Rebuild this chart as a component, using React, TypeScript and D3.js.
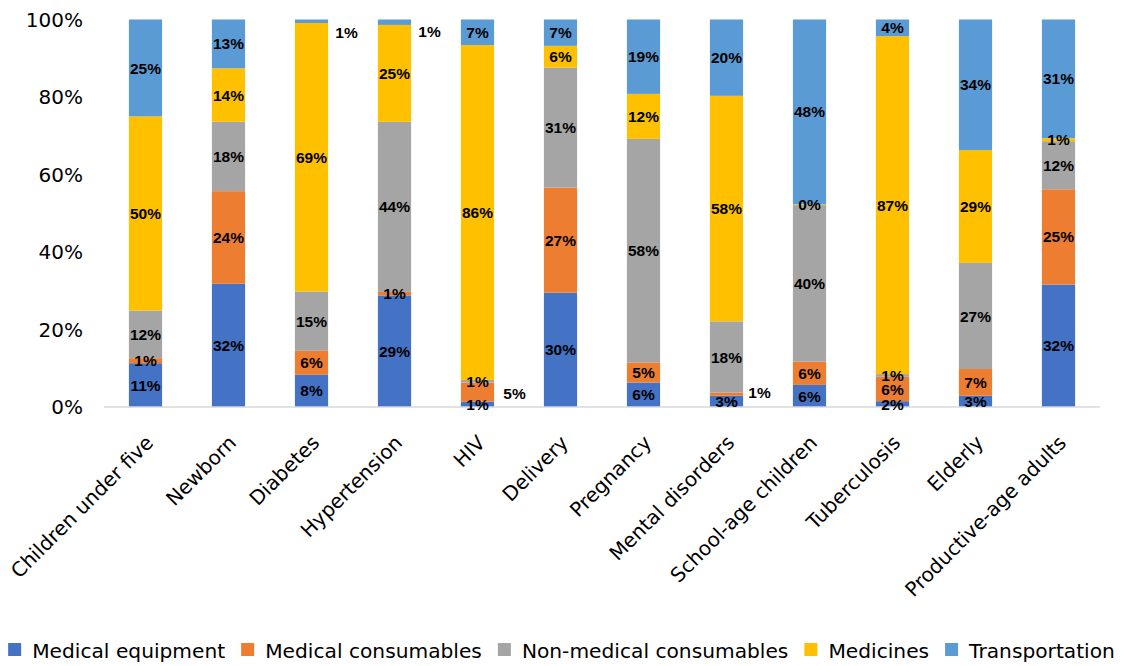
import React, { useEffect, useRef } from "react";
import * as d3 from "d3";

const categories = [
  "Children under five", "Newborn", "Diabetes", "Hypertension", "HIV", "Delivery",
  "Pregnancy", "Mental disorders", "School-age children", "Tuberculosis", "Elderly",
  "Productive-age adults",
];
const seriesNames = ["Medical equipment", "Medical consumables", "Non-medical consumables", "Medicines", "Transportation"];
const medicalEquipment = [11.3, 31.8, 8.3, 28.8, 1.4, 29.5, 6.3, 2.9, 5.7, 1.5, 2.9, 31.6];
const medicalConsumables = [1.3, 23.9, 6.2, 0.9, 4.9, 27.1, 5.2, 0.8, 6.0, 6.3, 6.9, 24.6];
const nonMedicalConsumables = [12.3, 17.9, 15.3, 43.9, 0.7, 31.0, 57.7, 18.4, 40.4, 0.7, 27.4, 12.4];
const medicines = [50.1, 13.8, 69.3, 25.0, 86.4, 5.6, 11.6, 58.2, 0.2, 87.2, 29.1, 0.8];
const transportation = [25.0, 12.6, 0.9, 1.4, 6.6, 6.8, 19.2, 19.7, 47.7, 4.3, 33.7, 30.6];
const yTicks = [0, 20, 40, 60, 80, 100];
const colors = ["#4472C4", "#ED7D31", "#A5A5A5", "#FFC000", "#5B9BD5"];

// labels moved beside the bar (layout)
const movedLabels = [
  { cat: "Diabetes", series: 4, dx: 35, dy: 11 },
  { cat: "Hypertension", series: 4, dx: 35, dy: 9 },
  { cat: "HIV", series: 1, dx: 37, dy: 1 },
  { cat: "Mental disorders", series: 1, dx: 33, dy: -2 },
];

export default function App() {
  const ref = useRef<SVGSVGElement>(null);

  useEffect(() => {
    const svg = d3.select(ref.current);
    svg.selectAll("*").remove();
    const W = 1123, H = 666;
    const m = { left: 104, right: 23, top: 19.5, bottom: 259 };
    const x = d3.scaleBand().domain(categories).range([m.left, W - m.right]).paddingInner(0.6).paddingOuter(0.3);
    const y = d3.scaleLinear().domain([0, 100]).range([H - m.bottom, m.top]);

    const allSeries = [medicalEquipment, medicalConsumables, nonMedicalConsumables, medicines, transportation];
    const rows = categories.map((c, i) => {
      const r: any = { cat: c };
      seriesNames.forEach((s, k) => (r[s] = allSeries[k][i]));
      return r;
    });
    const stacked = d3.stack().keys(seriesNames)(rows as any);

    const g = svg.append("g");
    stacked.forEach((layer, k) => {
      g.append("g")
        .attr("fill", colors[k])
        .selectAll("rect")
        .data(layer)
        .join("rect")
        .attr("x", (d: any) => x(d.data.cat)!)
        .attr("width", x.bandwidth())
        .attr("y", (d: any) => y(d[1]))
        .attr("height", (d: any) => y(d[0]) - y(d[1]));
    });

    // axis line
    g.append("line")
      .attr("x1", m.left).attr("x2", W - m.right)
      .attr("y1", y(0)).attr("y2", y(0))
      .attr("stroke", "#d9d9d9").attr("stroke-width", 1.5);

    // data labels
    const lg = g.append("g")
      .attr("font-family", "'Liberation Sans', Arial, sans-serif")
      .attr("font-weight", "bold")
      .attr("font-size", 15.5)
      .attr("fill", "#000")
      .attr("text-anchor", "middle");
    stacked.forEach((layer, k) => {
      layer.forEach((d: any) => {
        const cat = d.data.cat;
        const mv = movedLabels.find((l) => l.cat === cat && l.series === k);
        const cx = x(cat)! + x.bandwidth() / 2 + (mv ? mv.dx : 0);
        const cy = y((d[0] + d[1]) / 2) + (mv ? mv.dy : 0);
        lg.append("text")
          .attr("x", cx)
          .attr("y", cy)
          .attr("dy", "0.36em")
          .text(Math.round(d[1] - d[0]) + "%");
      });
    });

    // y tick labels
    g.append("g")
      .selectAll("text")
      .data(yTicks)
      .join("text")
      .attr("x", 83)
      .attr("y", (d) => y(d))
      .attr("dy", "0.36em")
      .attr("text-anchor", "end")
      .attr("font-family", "'DejaVu Sans', sans-serif")
      .attr("font-size", 20)
      .attr("fill", "#000")
      .text((d) => d + "%");

    // x labels
    g.append("g")
      .selectAll("text")
      .data(categories)
      .join("text")
      .attr("transform", (d) => `translate(${x(d)! + x.bandwidth() / 2 + 9},${y(0) + 37}) rotate(-45)`)
      .attr("text-anchor", "end")
      .attr("font-family", "'DejaVu Sans', sans-serif")
      .attr("font-size", 20)
      .attr("fill", "#000")
      .text((d) => d);

    // legend
    const leg = g.append("g");
    const items: { w: number; name: string; k: number }[] = [];
    seriesNames.forEach((s, k) => {
      const t = leg.append("text")
        .attr("font-family", "'DejaVu Sans', sans-serif")
        .attr("font-size", 20.2)
        .attr("fill", "#000")
        .attr("y", 658)
        .text(s);
      const w = (t.node() as SVGTextElement).getComputedTextLength();
      items.push({ w, name: s, k });
    });
    const sq = 13, gap1 = 11, gap2 = 16;
    const total = d3.sum(items, (it) => sq + gap1 + it.w) + gap2 * (items.length - 1);
    let cx = W / 2 - total / 2;
    const texts = leg.selectAll("text").nodes();
    items.forEach((it, i) => {
      leg.append("rect")
        .attr("x", cx).attr("y", 643).attr("width", sq).attr("height", sq)
        .attr("fill", colors[it.k]);
      d3.select(texts[i] as any).attr("x", cx + sq + gap1);
      cx += sq + gap1 + it.w + gap2;
    });
  }, []);

  return (
    <svg
      ref={ref}
      width={1123}
      height={666}
      style={{ position: "absolute", left: 0, top: 0, background: "#fff" }}
    />
  );
}
